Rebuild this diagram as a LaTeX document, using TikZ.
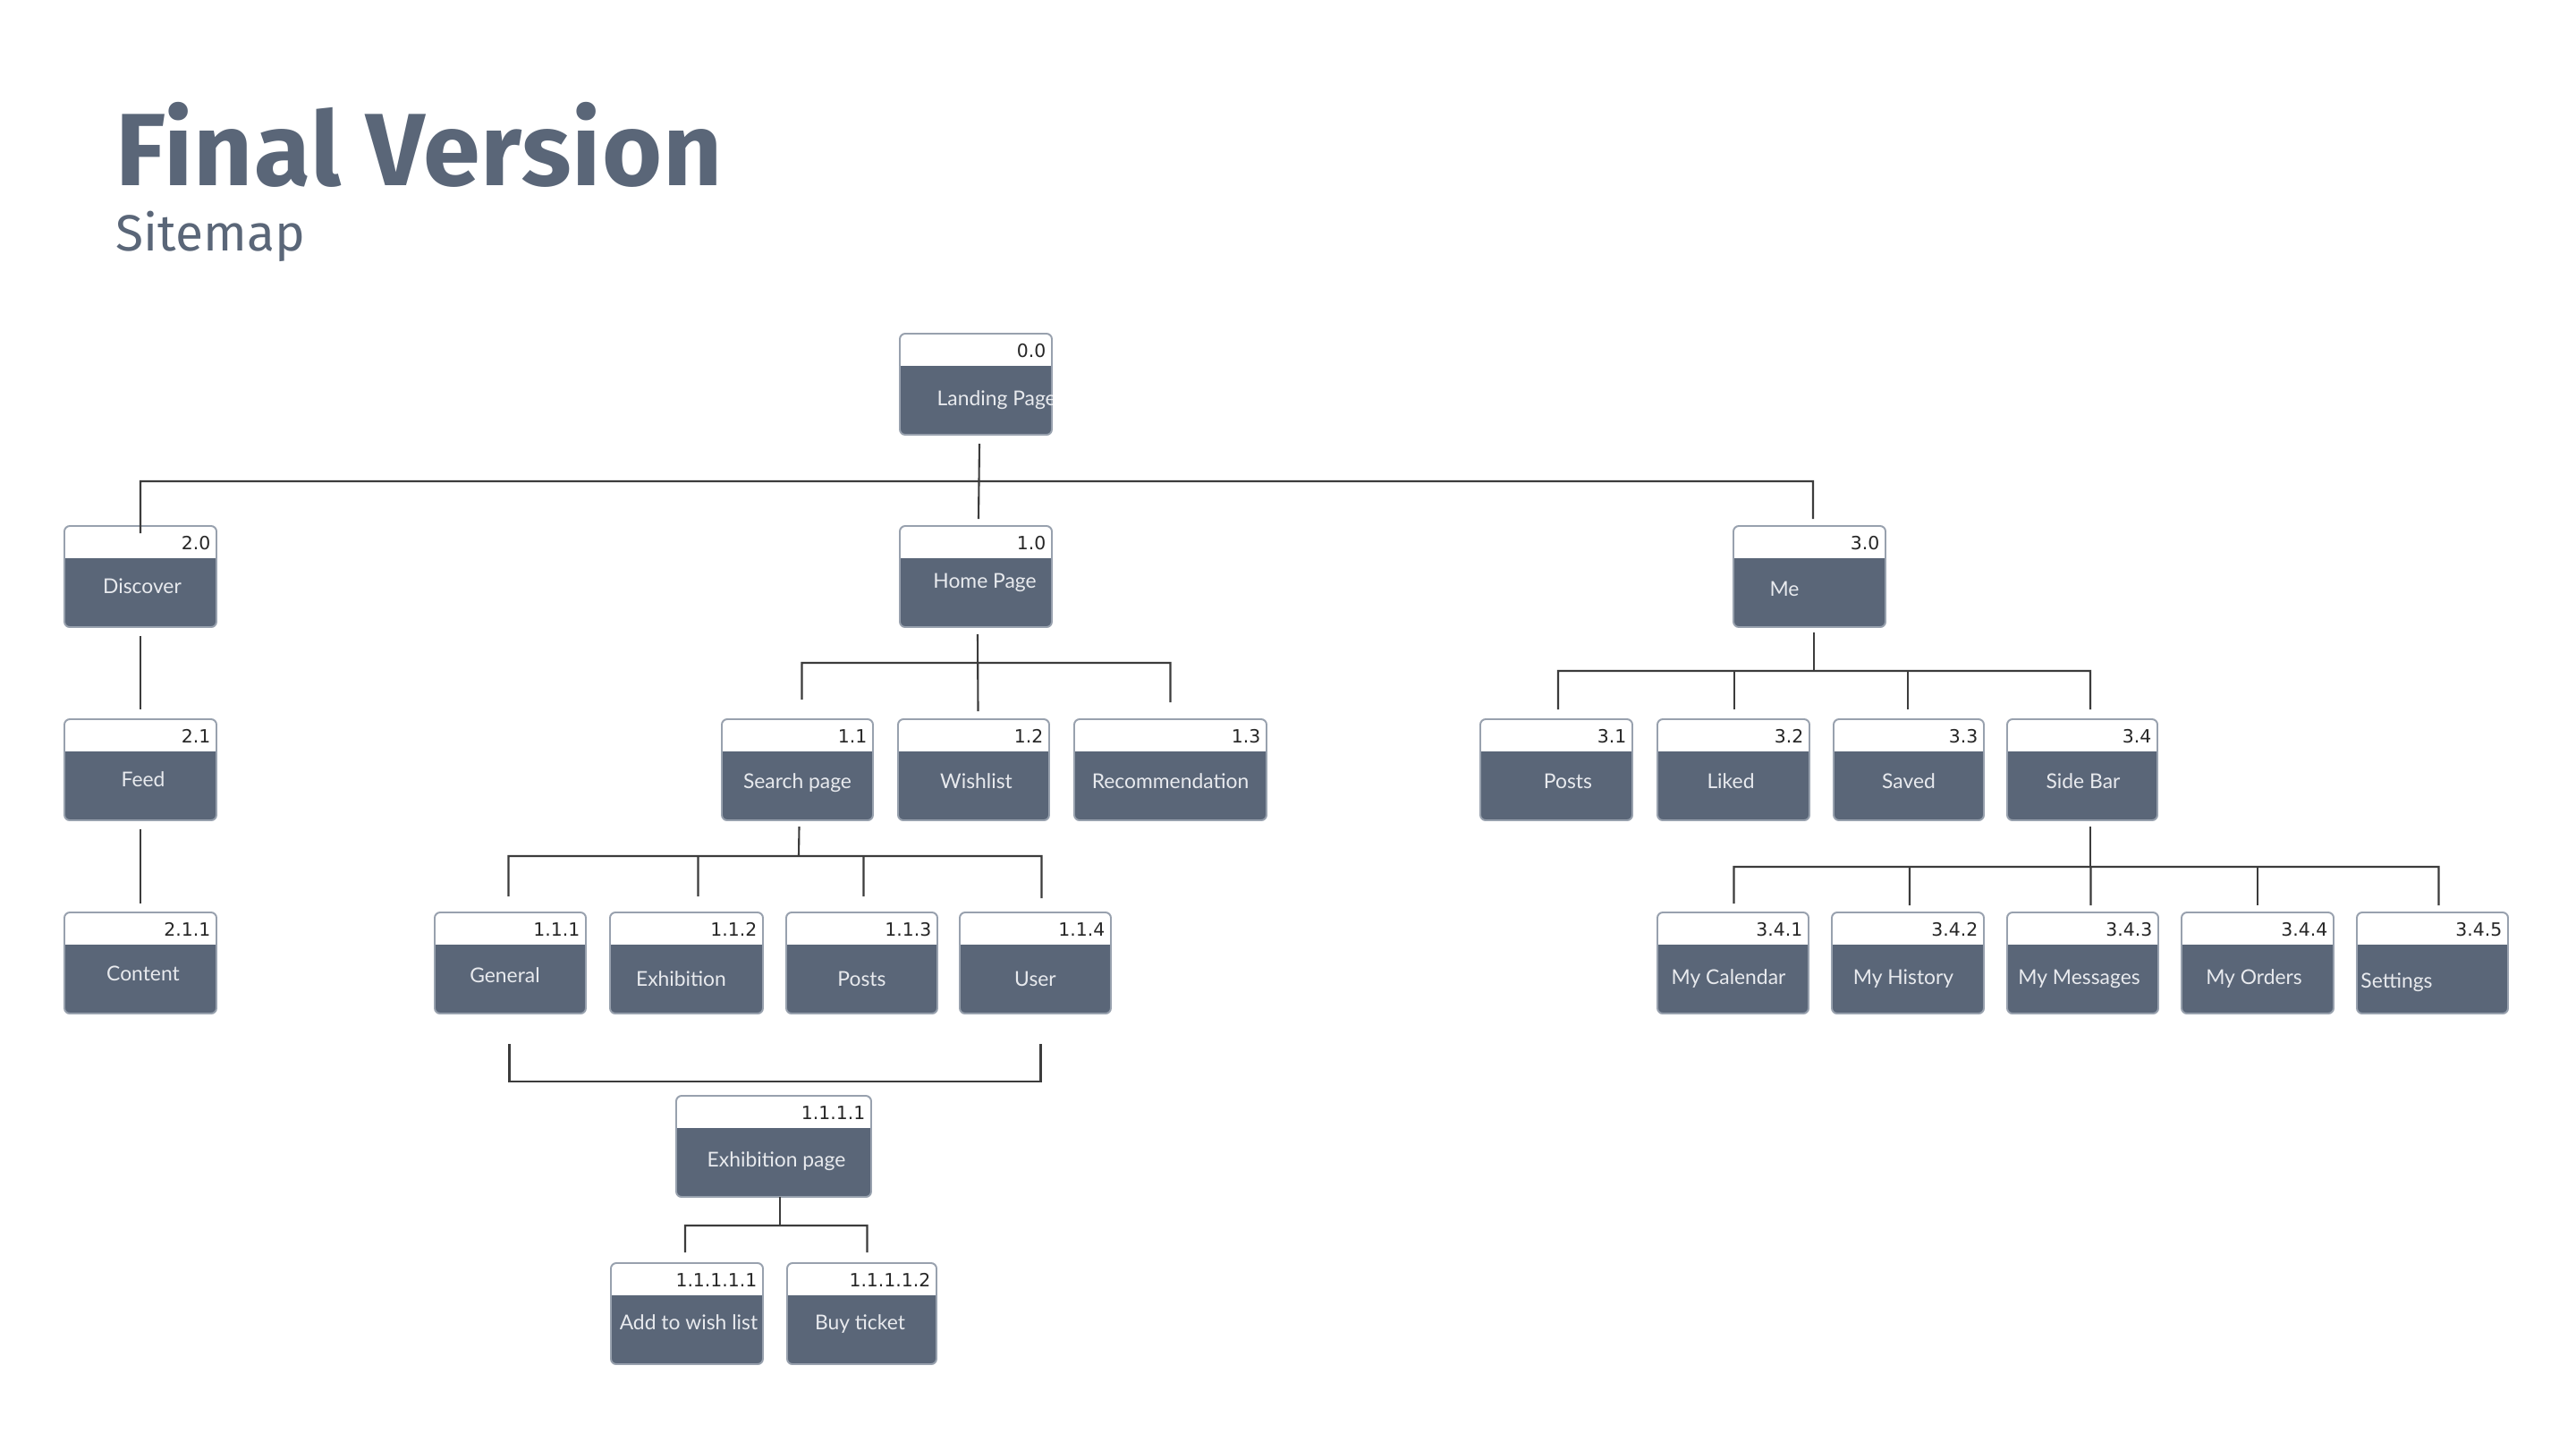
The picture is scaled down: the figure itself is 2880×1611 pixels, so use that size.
\documentclass[tikz,border=0pt]{standalone}
\usepackage{fontspec}
\setmainfont{Lato}
\newfontfamily\titlefont{Fira Sans}
\newfontfamily\numfont{DejaVu Sans}
\definecolor{slate}{HTML}{5A6678}
\definecolor{boxedge}{HTML}{98A1AE}
\definecolor{labelwhite}{HTML}{E8EAEE}
\definecolor{numdark}{HTML}{262626}
\definecolor{wirecol}{HTML}{3C3C3C}

\tikzset{
  pagebox/.style={fill=slate, rounded corners=0.6mm, minimum height=11.3mm,
    inner sep=0pt, outer sep=0pt},
  boxline/.style={draw=boxedge, line width=0.55pt, rounded corners=0.6mm},
  bodytext/.style={text=labelwhite, font=\fontsize{6.5}{7}\selectfont, inner sep=0pt, anchor=base},
  numtext/.style={text=numdark, font=\numfont\fontsize{5.8}{6.5}\selectfont, inner sep=0pt},
  wire/.style={draw=wirecol, line width=0.6pt},
}

% #1 name, #2 left, #3 top, #4 width, #5 number, #6 label, #7 label x shift, #8 label baseline
\newcommand\sitebox[8]{%
  \node[pagebox, minimum width=#4*0.1mm, anchor=north west] (#1) at (#2,#3) {};
  \begin{scope}
    \clip[rounded corners=0.6mm] (#1.north west) rectangle (#1.south east);
    \fill[white] (#1.north west) rectangle ([yshift=-3.6mm]#1.north east);
  \end{scope}
  \draw[boxline] (#1.north west) rectangle (#1.south east);
  \node[numtext, anchor=east] at ([shift={(-6,19)}]#1.north east) {#5};
  \node[bodytext] at ([shift={(#7,#8)}]#1.north) {#6};
}

\begin{document}
\begin{tikzpicture}[x=0.1mm, y=-0.1mm]
  \fill[white] (0,0) rectangle (2880,1611);
  \useasboundingbox (0,0) rectangle (2880,1611);

  % heading
  \node[anchor=base west, inner sep=0pt, text=slate,
        font=\titlefont\bfseries\fontsize{32.7}{36}\selectfont\addfontfeatures{LetterSpace=0.9}] (title) at (129,207) {Final Version};
  \node[anchor=base west, inner sep=0pt, text=slate,
        font=\titlefont\fontsize{16.2}{18}\selectfont] (subtitle) at (129,280) {Sitemap};

  % level 0
  \sitebox{land}{1006}{373}{170}{0.0}{}{0}{0}
  \begin{scope}
    \clip (land.north west) rectangle (land.south east);
    \node[bodytext, anchor=base west] (landlabel) at (1047,453) {Landing Page};
  \end{scope}

  % level 1
  \sitebox{disc}{72}{588}{170}{2.0}{Discover}{2}{75}
  \sitebox{home}{1006}{588}{170}{1.0}{Home Page}{10}{69}
  \sitebox{me}{1938}{588}{170}{3.0}{Me}{-28}{78}

  % level 2
  \sitebox{feed}{72}{804}{170}{2.1}{Feed}{3}{75}
  \sitebox{search}{807}{804}{169}{1.1}{Search page}{0}{77}
  \sitebox{wish}{1004}{804}{169}{1.2}{Wishlist}{3}{77}
  \sitebox{rec}{1201}{804}{215}{1.3}{Recommendation}{0}{77}
  \sitebox{mposts}{1655}{804}{170}{3.1}{Posts}{13}{77}
  \sitebox{liked}{1853}{804}{170}{3.2}{Liked}{-3}{77}
  \sitebox{saved}{2050}{804}{168}{3.3}{Saved}{0}{77}
  \sitebox{side}{2244}{804}{168}{3.4}{Side Bar}{1}{77}

  % level 3
  \sitebox{content}{72}{1020}{170}{2.1.1}{Content}{3}{76}
  \sitebox{gen}{486}{1020}{169}{1.1.1}{General}{-6}{78}
  \sitebox{exh}{682}{1020}{171}{1.1.2}{Exhibition}{-6}{82}
  \sitebox{sposts}{879}{1020}{169}{1.1.3}{Posts}{0}{82}
  \sitebox{user}{1073}{1020}{169}{1.1.4}{User}{0}{82}
  \sitebox{cal}{1853}{1020}{169}{3.4.1}{My Calendar}{-5}{80}
  \sitebox{hist}{2048}{1020}{170}{3.4.2}{My History}{-5}{80}
  \sitebox{msg}{2244}{1020}{169}{3.4.3}{My Messages}{-4}{80}
  \sitebox{orders}{2439}{1020}{170}{3.4.4}{My Orders}{-4}{80}
  \sitebox{settings}{2635}{1020}{169}{3.4.5}{Settings}{-40}{84}

  % level 4 and 5
  \sitebox{expage}{756}{1225}{218}{1.1.1.1}{Exhibition page}{3}{79}
  \sitebox{addw}{683}{1412}{170}{1.1.1.1.1}{Add to wish list}{2}{74}
  \sitebox{buy}{880}{1412}{167}{1.1.1.1.2}{Buy ticket}{-2}{74}

  % bus levels
  \coordinate (bus0) at (1094,538);
  \coordinate (busHome) at (1093,741);
  \coordinate (busMe) at (2028,750);
  \coordinate (busSearch) at (893,957);
  \coordinate (busSide) at (2337,969);
  \coordinate (busExp) at (872,1370);

  % landing page to level 1
  \draw[wire] ([shift={(4,10)}]land.south) -- ([shift={(3,-8)}]home.north);
  \draw[wire] ([yshift=-0.8mm]disc.north) -- (disc.north |- bus0) -- ([xshift=0.4mm]me.north |- bus0)
              -- ([shift={(4,-8)}]me.north);

  % discover branch
  \draw[wire] ([yshift=-1mm]disc.south) -- ([yshift=1.1mm]feed.north);
  \draw[wire] ([yshift=-1mm]feed.south) -- ([yshift=1mm]content.north);

  % home page branch
  \draw[wire] ([shift={(2,8)}]home.south) -- ([shift={(5,-9)}]wish.north);
  \draw[wire] ([shift={(5,-22)}]search.north) -- ([xshift=0.5mm]search.north |- busHome)
              -- (rec.north |- busHome) -- ([yshift=1.9mm]rec.north);

  % me branch
  \draw[wire] ([shift={(5,6)}]me.south) -- (busMe);
  \draw[wire] ([shift={(2,-11)}]mposts.north) -- ([xshift=0.2mm]mposts.north |- busMe)
              -- ([xshift=0.9mm]side.north |- busMe) -- ([shift={(9,-11)}]side.north);
  \draw[wire] ([shift={(1,-11)}]liked.north) -- ([xshift=0.1mm]liked.north |- busMe);
  \draw[wire] ([shift={(-1,-11)}]saved.north) -- ([xshift=-0.1mm]saved.north |- busMe);

  % search page branch
  \draw[wire] ([shift={(2,7)}]search.south) -- (busSearch);
  \draw[wire] ([shift={(-2,-18)}]gen.north) -- ([xshift=-0.2mm]gen.north |- busSearch)
              -- ([xshift=0.7mm]user.north |- busSearch) -- ([shift={(7,-16)}]user.north);
  \draw[wire] ([shift={(13,-18)}]exh.north) -- ([xshift=1.3mm]exh.north |- busSearch);
  \draw[wire] ([shift={(2,-18)}]sposts.north) -- ([xshift=0.2mm]sposts.north |- busSearch);

  % bracket below the search results
  \draw[wire] ([shift={(-1,34)}]gen.south) -- ++(0,42) -| ([shift={(6,34)}]user.south);

  % side bar branch
  \draw[wire] ([shift={(9,7)}]side.south) -- (busSide);
  \draw[wire] ([shift={(1,-10)}]cal.north) -- ([xshift=0.1mm]cal.north |- busSide)
              -- ([xshift=0.7mm]settings.north |- busSide) -- ([shift={(7,-8)}]settings.north);
  \draw[wire] ([shift={(2,-8)}]hist.north) -- ([xshift=0.2mm]hist.north |- busSide);
  \draw[wire] ([shift={(9,-8)}]msg.north) -- ([xshift=0.9mm]msg.north |- busSide);
  \draw[wire] ([shift={(0,-8)}]orders.north) -- (orders.north |- busSide);

  % exhibition page branch
  \draw[wire] (expage.south -| busExp) -- (busExp);
  \draw[wire] ([shift={(-2,-12)}]addw.north) -- ([xshift=-0.2mm]addw.north |- busExp)
              -- ([xshift=0.6mm]buy.north |- busExp) -- ([shift={(6,-12)}]buy.north);
\end{tikzpicture}
\end{document}
